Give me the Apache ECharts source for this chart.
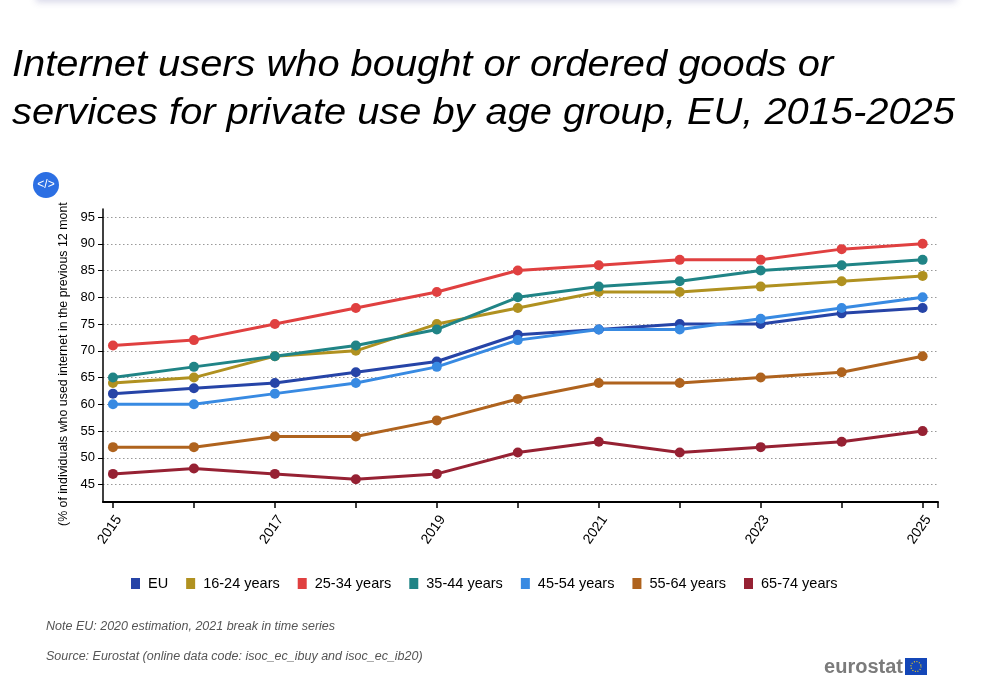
<!DOCTYPE html>
<html>
<head>
<meta charset="utf-8">
<script src="https://cdn.jsdelivr.net/npm/echarts@6/dist/echarts.min.js"></script>
<style>
  html, body { margin: 0; padding: 0; background: #fff; }
  #chart { width: 1001px; height: 682px; position: absolute; left: 0; top: 0; }
  #shadow { position: absolute; left: 36px; top: -12px; width: 920px; height: 12px;
            box-shadow: 0 2px 7px rgba(70,70,150,0.22); background: #fff; z-index: 5; }
</style>
</head>
<body>
<div id="chart"></div>
<div id="shadow"></div>
<script>
const years = [2015, 2016, 2017, 2018, 2019, 2020, 2021, 2022, 2023, 2024, 2025];
const seriesNames = ['EU', '16-24 years', '25-34 years', '35-44 years', '45-54 years', '55-64 years', '65-74 years'];
const euValues   = [62, 63, 64, 66, 68, 73, 74, 75, 75, 77, 78];
const y16_24     = [64, 65, 69, 70, 75, 78, 81, 81, 82, 83, 84];
const y25_34     = [71, 72, 75, 78, 81, 85, 86, 87, 87, 89, 90];
const y35_44     = [65, 67, 69, 71, 74, 80, 82, 83, 85, 86, 87];
const y45_54     = [60, 60, 62, 64, 67, 72, 74, 74, 76, 78, 80];
const y55_64     = [52, 52, 54, 54, 57, 61, 64, 64, 65, 66, 69];
const y65_74     = [47, 48, 47, 46, 47, 51, 53, 51, 52, 53, 55];
const yTickLabels = [45, 50, 55, 60, 65, 70, 75, 80, 85, 90, 95];
const xTickLabels = [2015, 2017, 2019, 2021, 2023, 2025];
const colors = ['#2644A7', '#B09120', '#E04040', '#208486', '#388AE2', '#AF631E', '#962133'];

const allValues = [euValues, y16_24, y25_34, y35_44, y45_54, y55_64, y65_74];
const FONT = '"Liberation Sans", Arial, sans-serif';
const xMin = 2014.877, xMax = 2025.19;

const chart = echarts.init(document.getElementById('chart'), null, { renderer: 'canvas' });
chart.setOption({
  animation: false,
  backgroundColor: '#fff',
  color: colors,
  textStyle: { fontFamily: FONT },
  grid: { left: 103, right: 63, top: 209, bottom: 180, containLabel: false },
  legend: {
    left: 126, top: 571,
    icon: 'rect', itemWidth: 9, itemHeight: 11, itemGap: 18,
    textStyle: { fontSize: 14.5, color: '#000', fontFamily: FONT, padding: [0, 0, 0, 3] },
    data: seriesNames
  },
  xAxis: {
    type: 'value', min: xMin, max: xMax,
    axisLine: { show: true, lineStyle: { color: '#000', width: 2 } },
    axisTick: { show: true, length: 6, lineStyle: { color: '#000', width: 1.5 },
                customValues: years.concat([xMax]) },
    axisLabel: { customValues: xTickLabels, rotate: 55, fontSize: 14, color: '#000',
                 margin: 11, verticalAlign: 'top', fontFamily: FONT, formatter: v => String(v) },
    splitLine: { show: false }
  },
  yAxis: {
    type: 'value', min: 41.75, max: 96.5,
    axisLine: { show: true, lineStyle: { color: '#000', width: 1.5 } },
    axisTick: { show: true, length: 5, lineStyle: { color: '#000', width: 1 },
                customValues: yTickLabels },
    axisLabel: { customValues: yTickLabels, fontSize: 13, color: '#000', margin: 8, fontFamily: FONT },
    splitLine: { show: true, lineStyle: { color: '#999', type: [1.5, 2.5], width: 1 } }
  },
  series: seriesNames.map((name, i) => ({
    name: name,
    type: 'line',
    data: years.map((y, j) => [y, allValues[i][j]]),
    symbol: 'circle', symbolSize: 10,
    lineStyle: { width: 3, color: colors[i] },
    itemStyle: { color: colors[i] },
    emphasis: { disabled: true }
  })),
  graphic: [
    { type: 'text', x: 12, y: 42, scaleX: 1.106, originX: 0, originY: 0,
      style: { text: 'Internet users who bought or ordered goods or\nservices for private use by age group, EU, 2015-2025',
               font: 'italic 36px ' + FONT, fill: '#000', lineHeight: 48, verticalAlign: 'top' } },
    { type: 'circle', shape: { cx: 46, cy: 185, r: 13 }, style: { fill: '#2C6FE3' } },
    { type: 'text', x: 46, y: 185,
      style: { text: '</>', font: '12px ' + FONT, fill: '#fff', align: 'center', verticalAlign: 'middle' } },
    { type: 'text', x: 64, y: 526, rotation: Math.PI / 2,
      style: { text: '(% of individuals who used internet in the previous 12 mont',
               font: '12.4px ' + FONT, fill: '#000', align: 'left', verticalAlign: 'middle' } },
    { type: 'text', x: 46, y: 627,
      style: { text: 'Note EU: 2020 estimation, 2021 break in time series',
               font: 'italic 12.5px ' + FONT, fill: '#555', verticalAlign: 'middle' } },
    { type: 'text', x: 46, y: 657,
      style: { text: 'Source: Eurostat (online data code: isoc_ec_ibuy and isoc_ec_ib20)',
               font: 'italic 12.5px ' + FONT, fill: '#555', verticalAlign: 'middle' } },
    { type: 'text', x: 903, y: 667,
      style: { text: 'eurostat', font: 'bold 20px ' + FONT, fill: '#7b7b7b', align: 'right', verticalAlign: 'middle' } },
    { type: 'rect', shape: { x: 905, y: 658, width: 22, height: 17 }, style: { fill: '#1447B8' } },
    { type: 'circle', shape: { cx: 916, cy: 666.5, r: 5 },
      style: { fill: 'none', stroke: '#F2D21B', lineWidth: 1.2, lineDash: [1, 1.6] } }
  ]
});
</script>
</body>
</html>
